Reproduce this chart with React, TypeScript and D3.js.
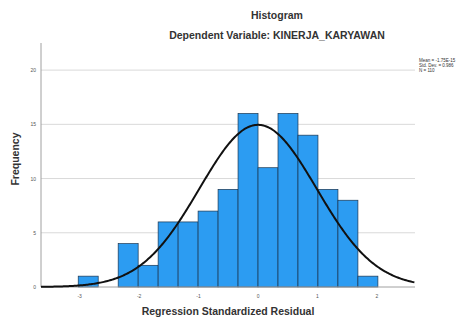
import { useEffect, useRef } from 'react';
import * as d3 from 'd3';

// histogram bins (upper edge in bin-width units from 0) and counts
const binIndex = [-8, -7, -6, -5, -4, -3, -2, -1, 0, 1, 2, 3, 4, 5, 6];
const counts = [1, 0, 4, 2, 6, 6, 7, 9, 16, 11, 16, 14, 9, 8, 1];
const binWidth = 0.336;
const yTicks = [0, 5, 10, 15, 20];
const xTicks = [-3, -2, -1, 0, 1, 2];
const stats = ['Mean = -1.75E-15', 'Std. Dev. = 0.986', 'N = 110'];
const mean = 0;
const sd = 0.986;
const n = 110;

export default function App() {
  const svgRef = useRef<SVGSVGElement>(null);
  const width = 470;
  const height = 322;

  useEffect(() => {
    if (!svgRef.current) return;
    const svg = d3.select(svgRef.current);
    svg.selectAll('*').remove();

    const margin = { top: 43, right: 55, bottom: 35, left: 41 };
    const innerWidth = width - margin.left - margin.right;
    const innerHeight = height - margin.top - margin.bottom;
    const font = 'Liberation Sans, Arial, sans-serif';

    const xScale = d3.scaleLinear().domain([-3.65, 2.64]).range([0, innerWidth]);
    const yScale = d3.scaleLinear().domain([0, 22.5]).range([innerHeight, 0]);

    const g = svg.append('g').attr('transform', `translate(${margin.left},${margin.top})`);

    // grid
    g.selectAll('.grid')
      .data(yTicks.filter(d => d > 0))
      .enter()
      .append('line')
      .attr('x1', 0)
      .attr('x2', innerWidth)
      .attr('y1', d => yScale(d))
      .attr('y2', d => yScale(d))
      .attr('stroke', '#d9d9d9')
      .attr('stroke-width', 1);

    // bars
    const bins = binIndex.map((k, i) => ({ x0: (k - 1) * binWidth, x1: k * binWidth, count: counts[i] }));
    g.selectAll('.bar')
      .data(bins.filter(b => b.count > 0))
      .enter()
      .append('rect')
      .attr('x', d => xScale(d.x0))
      .attr('y', d => yScale(d.count))
      .attr('width', d => xScale(d.x1) - xScale(d.x0))
      .attr('height', d => innerHeight - yScale(d.count))
      .attr('fill', '#2c9cf2')
      .attr('stroke', '#1a3550')
      .attr('stroke-width', 0.7);

    // axes
    g.append('line')
      .attr('x1', 0).attr('x2', innerWidth)
      .attr('y1', innerHeight).attr('y2', innerHeight)
      .attr('stroke', '#a0a0a0');
    g.append('line')
      .attr('x1', 0).attr('x2', 0)
      .attr('y1', 0).attr('y2', innerHeight)
      .attr('stroke', '#a0a0a0');

    g.selectAll('.ytick')
      .data(yTicks)
      .enter()
      .append('text')
      .attr('x', -5)
      .attr('y', d => yScale(d) + 2)
      .attr('text-anchor', 'end')
      .attr('font-family', font)
      .attr('font-size', '5px')
      .attr('fill', '#555')
      .text(d => d);

    g.selectAll('.xtick')
      .data(xTicks)
      .enter()
      .append('text')
      .attr('x', d => xScale(d))
      .attr('y', innerHeight + 11)
      .attr('text-anchor', 'middle')
      .attr('font-family', font)
      .attr('font-size', '5px')
      .attr('fill', '#555')
      .text(d => d);

    // normal curve
    const curvePts = d3.range(-3.65, 2.65, 0.02).map(x => ({
      x,
      y: (n * binWidth) / (sd * Math.sqrt(2 * Math.PI)) * Math.exp(-0.5 * ((x - mean) / sd) ** 2),
    }));
    g.append('path')
      .datum(curvePts)
      .attr('fill', 'none')
      .attr('stroke', '#111')
      .attr('stroke-width', 2)
      .attr('d', d3.line<{ x: number; y: number }>().x(d => xScale(d.x)).y(d => yScale(d.y)));

    // titles
    const title = (x: number, y: number, txt: string, rotate = false) =>
      svg.append('text')
        .attr('transform', rotate ? 'rotate(-90)' : null)
        .attr('x', x).attr('y', y)
        .attr('text-anchor', 'middle')
        .attr('font-family', font)
        .attr('font-weight', 'bold')
        .attr('font-size', '10.5px')
        .attr('fill', '#333')
        .text(txt);

    title(277, 19, 'Histogram');
    title(277, 39, 'Dependent Variable: KINERJA_KARYAWAN');
    title(margin.left + innerWidth / 2, 315, 'Regression Standardized Residual');
    title(-159, 19, 'Frequency', true);

    // stats box
    svg.selectAll('.stat')
      .data(stats)
      .enter()
      .append('text')
      .attr('x', 419)
      .attr('y', (d, i) => 62 + i * 5)
      .attr('font-family', font)
      .attr('font-size', '4.5px')
      .attr('fill', '#333')
      .text(d => d);
  }, []);

  return (
    <svg
      ref={svgRef}
      width={width}
      height={height}
      style={{ position: 'absolute', left: 0, top: 0, background: '#fff' }}
    />
  );
}
